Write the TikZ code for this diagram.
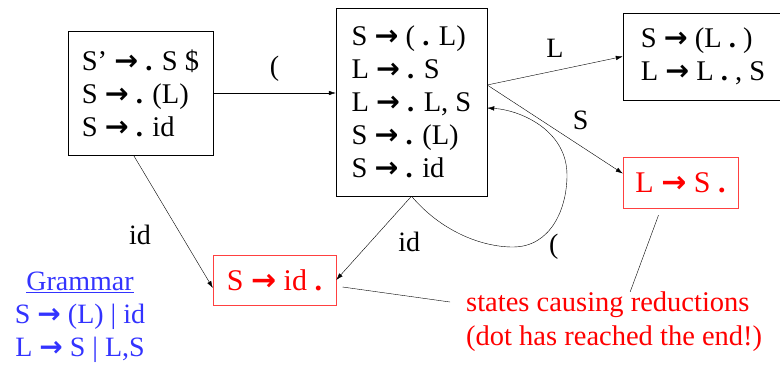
\documentclass[tikz,border=0pt]{standalone}
\usepackage{fontspec}
\setmainfont{Liberation Serif}
\newfontfamily\arrowfont{DejaVu Sans}
\usepackage{xcolor}
\usetikzlibrary{arrows.meta,positioning}

\definecolor{reducered}{RGB}{255,0,0}
\definecolor{gramblue}{RGB}{51,51,255}
\newcommand{\ra}{{\arrowfont\bfseries →}}
\newcommand{\dt}{\textbf{.}}

\begin{document}
\begin{tikzpicture}[
  x=1pt, y=-1pt,
  every node/.style={font=\fontsize{28.5}{33}\selectfont, inner sep=0pt},
  state/.style={draw, thin, align=left},
  reduce/.style={draw=red!75, thin, text=reducered, font=\fontsize{30}{33}\selectfont},
  lbl/.style={font=\fontsize{28}{33}\selectfont},
  edge/.style={-{Latex[length=7pt,width=4.5pt]}, thin}
]
\useasboundingbox (0,0) rectangle (780,366);

% LR(0) states
\node[state, minimum width=145, minimum height=124] (start) at (140.5,93)
  {S’ \ra{} \dt{} S \$\\S \ra{} \dt{} (L)\\S \ra{} \dt{} id};
\node[state, minimum width=151, minimum height=188] (items) at (411.5,102)
  {S \ra{} ( \dt{} L)\\L \ra{} \dt{} S\\L \ra{} \dt{} L, S\\S \ra{} \dt{} (L)\\S \ra{} \dt{} id};
\node[state, minimum width=160, minimum height=87] (listl) at (703,56.5)
  {S \ra{} (L \dt{} )\\L \ra{} L \dt{} , S};
\node[reduce, minimum width=115, minimum height=51] (lred) at (680.5,182.5) {L \ra{} S \dt{}};
\node[reduce, minimum width=123, minimum height=50] (idred) at (274.5,280) {S \ra{} id \dt{}};

% notes
\node[lbl, text=reducered, align=left, anchor=west, font=\fontsize{28.5}{34}\selectfont] (note) at (466,322)
  {states causing reductions\\(dot has reached the end!)};
\node[lbl, text=gramblue, align=center, anchor=north] (gram) at (80,272)
  {\underline{Grammar}\\S \ra{} (L) | id\\L \ra{} S | L,S};

% transitions
\draw[edge] (start.east) -- node[lbl, midway, above=11pt] {(} (start.east -| items.west);
\draw[edge] ([xshift=-7pt]start.south) -- node[lbl, pos=0.6, left=30pt] {id} ([yshift=-8pt]idred.west);
\draw[edge] ([yshift=17pt]items.east) -- node[lbl, midway, above=13pt] {L} (listl.west);
\draw[edge] ([yshift=17pt]items.east) -- node[lbl, pos=0.69, above=16pt] {S} ([yshift=9pt]lred.west);
\draw[edge] (items.south) -- node[lbl, pos=0.55, right=28pt] {id} (idred.east);
\draw[edge] (items.south) .. controls (440,230) and (480,247) .. (513,247)
  node[lbl, right=36pt] {(}
  .. controls (550,247) and (567,210) .. (567,175)
  .. controls (567,130) and (520,110) .. ([yshift=-6pt]items.east);

% pointers to the note
\draw[thin] ([xshift=68pt,yshift=-7pt]idred.center) -- ([xshift=-16pt,yshift=20pt]note.west);
\draw[thin] ([xshift=-22pt,yshift=-7pt]lred.south) -- ([xshift=16pt]note.north);
\end{tikzpicture}
\end{document}
